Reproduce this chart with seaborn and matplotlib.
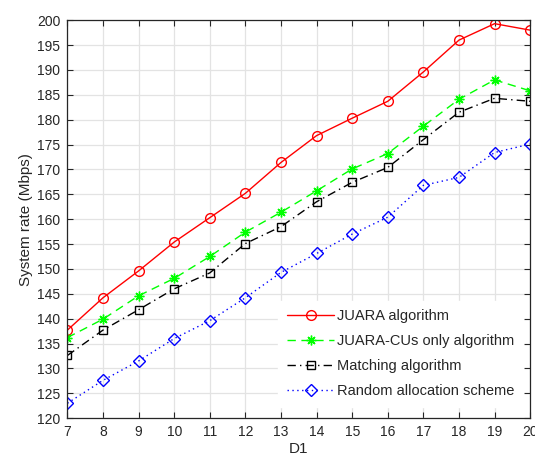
import matplotlib
matplotlib.use("Agg")
import matplotlib.pyplot as plt
import seaborn as sns
import numpy as np

d1 = [7, 8, 9, 10, 11, 12, 13, 14, 15, 16, 17, 18, 19, 20]
juara = [137.7, 144.2, 149.6, 155.4, 160.3, 165.2, 171.4, 176.8, 180.3, 183.7, 189.6, 196.0, 199.3, 198.0]
juara_cus = [136.2, 139.9, 144.6, 148.1, 152.5, 157.4, 161.4, 165.7, 170.1, 173.2, 178.7, 184.1, 188.0, 185.8]
matching = [132.6, 137.7, 141.8, 146.0, 149.2, 155.1, 158.5, 163.5, 167.4, 170.4, 176.0, 181.5, 184.3, 183.7]
random_alloc = [123.0, 127.6, 131.5, 136.0, 139.6, 144.2, 149.3, 153.1, 157.0, 160.4, 166.8, 168.4, 173.4, 175.1]
labels = ["JUARA algorithm", "JUARA-CUs only algorithm", "Matching algorithm", "Random allocation scheme"]
xticks = list(range(7, 21))
yticks = list(range(120, 201, 5))

sns.set_theme(style="ticks")
plt.rcParams['font.family'] = ['Liberation Sans', 'DejaVu Sans']
plt.rcParams['font.size'] = 10

fig = plt.figure(figsize=(5.35, 4.59), dpi=100)
ax = fig.add_axes([0.126, 0.089, 0.865, 0.867])

colors = [(1, 0, 0), (0, 1, 0), (0, 0, 0), (0, 0, 1)]
styles = [
    dict(marker='o', linestyle='-', markersize=7, mfc='none'),
    dict(marker=(8, 2, 0), linestyle=(0, (6, 4)), markersize=7),
    dict(marker='s', linestyle=(0, (6, 3, 1, 3)), markersize=5.5, mfc='none'),
    dict(marker='D', linestyle=(0, (1, 2.5)), markersize=6.5, mfc='none'),
]
series = [juara, juara_cus, matching, random_alloc]
for ys, lab, st, c in zip(series, labels, styles, colors):
    sns.lineplot(x=d1, y=ys, ax=ax, label=lab, linewidth=1.0, color=c,
                 mec=c, mew=1.0, **st)

ax.set_xlim(7, 20)
ax.set_ylim(120, 200)
ax.set_xticks(xticks)
ax.set_yticks(yticks)
ax.grid(True, color='#e3e3e3', linewidth=0.9)
ax.set_axisbelow(True)
for s in ax.spines.values():
    s.set_color('#262626')
    s.set_linewidth(0.9)
ax.tick_params(direction='in', top=True, right=True, length=4, width=0.8,
               color='#262626', labelsize=10, labelcolor='#262626', pad=5)
ax.set_xlabel("D1", fontsize=11, color='#262626', labelpad=2)
ax.set_ylabel("System rate (Mbps)", fontsize=11, color='#262626', labelpad=3)

leg = ax.legend(loc='lower right', bbox_to_anchor=(1.0, 0.01), frameon=True, fancybox=False,
                edgecolor='white', facecolor='white', framealpha=1, fontsize=10.5,
                handlelength=3.2, labelspacing=0.75, handletextpad=0.2, borderpad=0.6)
for t in leg.get_texts():
    t.set_color('#262626')

fig.savefig("out.png", dpi=100)
